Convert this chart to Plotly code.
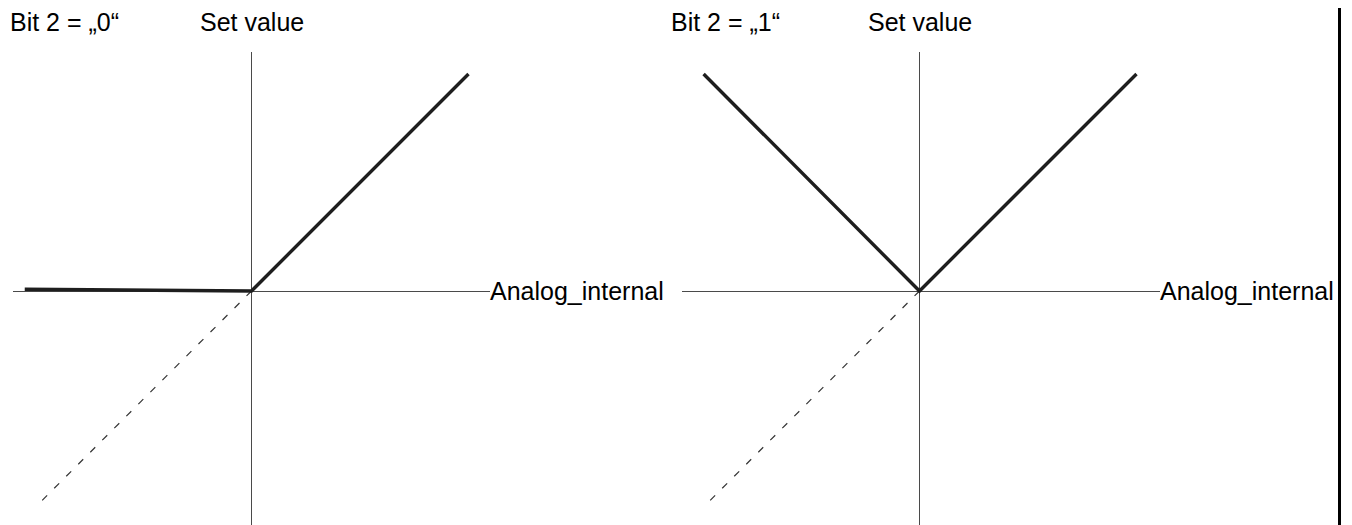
import plotly.graph_objects as go

# Characteristic curves (units: Analog_internal on x, Set value on y)
curve0_x = [-1.045, 0.0, 1.0]
curve0_y = [0.008, 0.0, 1.0]

curve1_x = [-0.995, 0.0, 1.0]
curve1_y = [1.0, 0.0, 1.0]

dashed_x = [0.0, -0.99]
dashed_y = [0.0, -0.99]

titles = ["Bit 2 = \u201e0\u201c", "Bit 2 = \u201e1\u201c"]
x_label = "Analog_internal"
y_label = "Set value"

# page has an 8px body margin, so the figure is shrunk and positions shifted
OFF = 8
W, H = 1352 - OFF, 525 - OFF
UNIT = 217.0
FONT = dict(family="Liberation Sans, Arial, sans-serif", size=25, color="#000000")


def px(v):
    return (v - OFF) / W


def py(v):
    return 1 - (v - OFF) / H


panels = [
    dict(ox=251.5, x0=12.5, x1=490, cx=curve0_x, cy=curve0_y, title=titles[0], tx=8),
    dict(ox=919.5, x0=682, x1=1160, cx=curve1_x, cy=curve1_y, title=titles[1], tx=669),
]
oy, ytop, ybot = 291, 52, 525

fig = go.Figure()

for i, p in enumerate(panels):
    xa = "x" if i == 0 else "x2"
    ya = "y" if i == 0 else "y2"
    # dashed continuation
    fig.add_trace(go.Scatter(x=dashed_x, y=dashed_y, xaxis=xa, yaxis=ya, mode="lines",
                             line=dict(color="#333333", width=1.2, dash="7px,10px"),
                             hoverinfo="skip", showlegend=False))
    fig.add_trace(go.Scatter(x=p["cx"], y=p["cy"], xaxis=xa, yaxis=ya, mode="lines",
                             line=dict(color="#1e1e1e", width=3.4),
                             hoverinfo="skip", showlegend=False))

    ax = dict(domain=[max(px(p["x0"]), 0), px(p["x1"])],
              range=[(max(p["x0"], OFF) - p["ox"]) / UNIT, (p["x1"] - p["ox"]) / UNIT],
              showgrid=False, showticklabels=False, showline=False, ticks="",
              zeroline=True, zerolinecolor="#4a4a4a", zerolinewidth=1)
    ay = dict(domain=[py(ybot), py(ytop)],
              range=[-(ybot - oy) / UNIT, (oy - ytop) / UNIT],
              showgrid=False, showticklabels=False, showline=False, ticks="",
              zeroline=True, zerolinecolor="#4a4a4a", zerolinewidth=1)
    if i == 0:
        fig.update_layout(xaxis=ax, yaxis=ay)
    else:
        ax["anchor"] = "y2"
        ay["anchor"] = "x2"
        fig.update_layout(xaxis2=ax, yaxis2=ay)

    fig.add_annotation(text=p["title"], xref="paper", yref="paper",
                       x=max(px(p["tx"]), 0), y=py(22), xanchor="left", yanchor="middle",
                       showarrow=False, font=FONT)
    fig.add_annotation(text=y_label, xref=xa, yref="paper", x=0, y=py(22),
                       xanchor="center", yanchor="middle", showarrow=False, font=FONT)
    fig.add_annotation(text=x_label, xref="paper", yref=ya, x=px(p["x1"]), y=0,
                       xanchor="left", yanchor="middle", showarrow=False, font=FONT,
                       xshift=-2)

# right frame border
fig.add_shape(type="line", xref="paper", yref="paper", x0=px(1339.5), x1=px(1339.5),
              y0=0, y1=1.02, line=dict(color="#000000", width=3))

fig.update_layout(width=W, height=H, margin=dict(l=0, r=0, t=0, b=0),
                  paper_bgcolor="#ffffff", plot_bgcolor="rgba(0,0,0,0)",
                  showlegend=False)

fig.write_html("out.html")
